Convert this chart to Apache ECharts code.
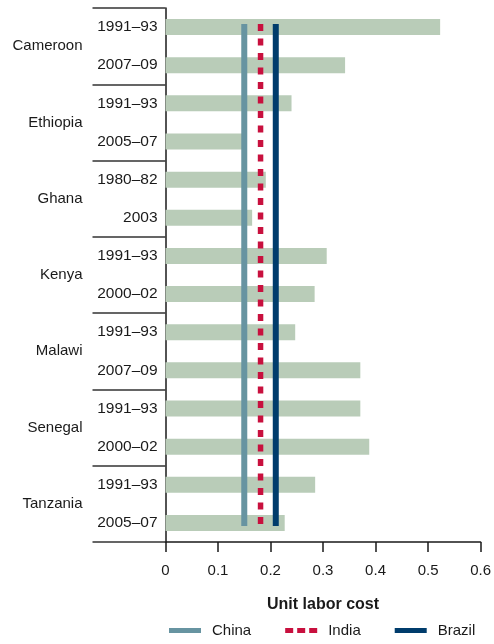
<!DOCTYPE html>
<html>
<head>
<meta charset="utf-8">
<script src="https://cdn.jsdelivr.net/npm/echarts@6/dist/echarts.min.js"></script>
<style>html,body{margin:0;padding:0;background:#fff}#c{width:494px;height:644px}</style>
</head>
<body>
<div id="c"></div>
<script>
var countries = ['Cameroon', 'Ethiopia', 'Ghana', 'Kenya', 'Malawi', 'Senegal', 'Tanzania'];
var periods = ['1991–93', '2007–09', '1991–93', '2005–07', '1980–82', '2003', '1991–93', '2000–02', '1991–93', '2007–09', '1991–93', '2000–02', '1991–93', '2005–07'];
var unitLaborCost = [0.523, 0.342, 0.240, 0.147, 0.191, 0.165, 0.307, 0.284, 0.247, 0.371, 0.371, 0.388, 0.285, 0.227];
var benchmarkNames = ['China', 'India', 'Brazil'];
var benchmarkValues = [0.150, 0.181, 0.210];
var xTicks = [0, 0.1, 0.2, 0.3, 0.4, 0.5, 0.6];

var FONT = '"Liberation Sans", Arial, sans-serif';
var colors = { China: '#6794a1', India: '#c8103e', Brazil: '#003c6c' };
var lineSpan = [0.42, 13.58];

var series = [{
  type: 'bar',
  name: 'cost',
  xAxisIndex: 0,
  yAxisIndex: 0,
  data: unitLaborCost,
  barWidth: 16,
  itemStyle: { color: '#b9ccb8' },
  silent: true,
  z: 1
}];
benchmarkNames.forEach(function (n, i) {
  series.push({
    type: 'line',
    name: n,
    xAxisIndex: 0,
    yAxisIndex: 2,
    data: [[benchmarkValues[i], lineSpan[0]], [benchmarkValues[i], lineSpan[1]]],
    symbol: 'none',
    color: colors[n],
    itemStyle: { color: colors[n] },
    lineStyle: {
      color: colors[n],
      width: n === 'India' ? 5.5 : 6,
      type: n === 'India' ? [7, 7.5] : 'solid',
      cap: 'butt'
    },
    z: 3 + i
  });
});

var icons = {
  China: 'rect',
  India: 'path://M0,0h8v5h-8z M12,0h8v5h-8z M24,0h8v5h-8z',
  Brazil: 'rect'
};

var chart = echarts.init(document.getElementById('c'), null, { renderer: 'canvas' });
chart.setOption({
  animation: false,
  textStyle: { fontFamily: FONT },
  grid: { left: 165.5, right: 10.5, top: 8, bottom: 102, containLabel: false },
  xAxis: {
    type: 'value',
    position: 'bottom',
    min: xTicks[0],
    max: xTicks[xTicks.length - 1],
    interval: 0.1,
    axisLine: { show: true, onZero: false, lineStyle: { color: '#1a1a1a', width: 1.5 } },
    axisTick: { show: true, inside: false, length: 10, lineStyle: { color: '#1a1a1a', width: 1.5 } },
    splitLine: { show: false },
    axisLabel: { color: '#1a1a1a', fontSize: 15, fontFamily: FONT, margin: 21,
      formatter: function (v) { return String(Math.round(v * 10) / 10); } },
    name: 'Unit labor cost',
    nameLocation: 'middle',
    nameGap: 55,
    nameTextStyle: { color: '#1a1a1a', fontSize: 16, fontWeight: 'bold', fontFamily: FONT }
  },
  yAxis: [{
    type: 'category',
    inverse: true,
    data: periods,
    axisLine: { show: true, onZero: false, lineStyle: { color: '#1a1a1a', width: 1.5 } },
    axisTick: { show: false },
    axisLabel: { color: '#1a1a1a', fontSize: 15.5, fontFamily: FONT, margin: 8 }
  }, {
    type: 'category',
    inverse: true,
    data: countries,
    position: 'left',
    axisLine: { show: false, onZero: false },
    axisTick: { show: true, length: 73, inside: false, lineStyle: { color: '#333', width: 1.5 } },
    axisLabel: { color: '#1a1a1a', fontSize: 15, fontFamily: FONT, margin: 83 }
  }, {
    type: 'value',
    inverse: true,
    min: 0,
    max: 14,
    show: false
  }],
  legend: {
    data: benchmarkNames.map(function (n) { return { name: n, icon: icons[n], itemStyle: { color: colors[n] } }; }),
    left: 169,
    top: 623,
    padding: 0,
    itemWidth: 32,
    itemHeight: 5,
    itemGap: 34,
    textStyle: { color: '#1a1a1a', fontSize: 15, fontFamily: FONT, padding: [0, 0, 0, 6] },
    selectedMode: false
  },
  series: series
});
</script>
</body>
</html>
